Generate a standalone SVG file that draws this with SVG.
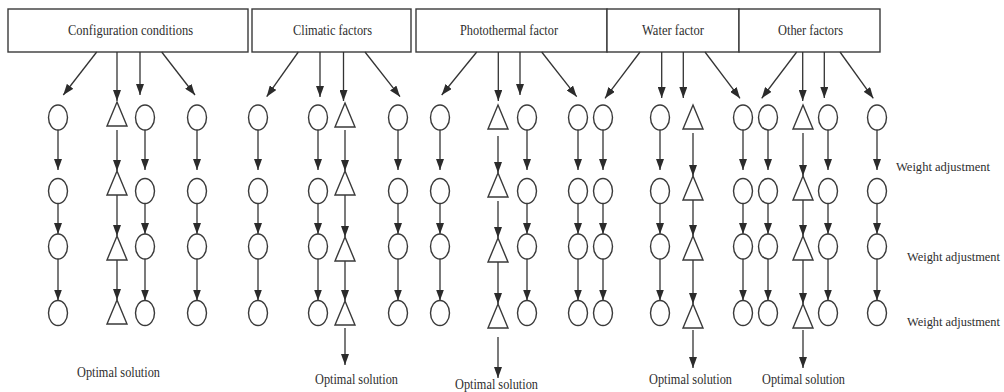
<svg xmlns="http://www.w3.org/2000/svg" xmlns:xlink="http://www.w3.org/1999/xlink" width="1004" height="392" viewBox="0 0 1004 392">
  <defs>
    <marker id="arr" viewBox="0 0 11 8" refX="11" refY="4" markerWidth="11" markerHeight="8" markerUnits="userSpaceOnUse" orient="auto">
      <path d="M0,0 L11,4 L0,8 Z" fill="#2b2b2b"/>
    </marker>
    <ellipse id="o" cx="0" cy="0" rx="9.5" ry="12.5"/>
    <path id="t" d="M0,0 L10,24 L-10,24 Z"/>
  </defs>
  <style>
    .cell { fill: #fff; stroke: #3a3a3a; stroke-width: 1.4; }
    .sh { fill: #fff; stroke: #3a3a3a; stroke-width: 1.4; }
    .conn line { stroke: #333; stroke-width: 1.3; marker-end: url(#arr); }
    text { font-family: "Liberation Serif", "Times New Roman", serif; font-size: 14.5px; fill: #2e2e2e; }
    #weight-labels text { font-size: 12.6px; }
  </style>

  <rect width="1004" height="392" fill="#fff"/>

  <!-- factor header cells -->
  <g id="h-config"><rect class="cell" x="8" y="9" width="240" height="43"/><text x="68" y="35" textLength="125" lengthAdjust="spacingAndGlyphs">Configuration conditions</text></g>
  <g id="h-climatic"><rect class="cell" x="252" y="9" width="159" height="43"/><text x="293" y="35" textLength="79" lengthAdjust="spacingAndGlyphs">Climatic factors</text></g>
  <g id="h-photothermal"><rect class="cell" x="416" y="9" width="191" height="43"/><text x="460" y="35" textLength="98" lengthAdjust="spacingAndGlyphs">Photothermal factor</text></g>
  <g id="h-water"><rect class="cell" x="607" y="9" width="132" height="43"/><text x="642" y="35" textLength="62" lengthAdjust="spacingAndGlyphs">Water factor</text></g>
  <g id="h-other"><rect class="cell" x="739" y="9" width="141" height="43"/><text x="778" y="35" textLength="65" lengthAdjust="spacingAndGlyphs">Other factors</text></g>

  <!-- connectors -->
  <g id="connectors" class="conn">
    <!-- header to first row -->
    <line x1="96.7" y1="52" x2="63.3" y2="95"/>
    <line x1="117" y1="52" x2="117" y2="101"/>
    <line x1="140" y1="52" x2="140" y2="95"/>
    <line x1="161.7" y1="52" x2="195" y2="95"/>
    <line x1="298.3" y1="52" x2="266.7" y2="96.7"/>
    <line x1="320" y1="52" x2="320" y2="97"/>
    <line x1="343.5" y1="52" x2="343.5" y2="101"/>
    <line x1="365" y1="52" x2="400" y2="96.7"/>
    <line x1="476.7" y1="52" x2="441.7" y2="95"/>
    <line x1="498.3" y1="52" x2="498.3" y2="101"/>
    <line x1="520" y1="52" x2="520" y2="95"/>
    <line x1="541.7" y1="52" x2="576.7" y2="96.7"/>
    <line x1="640" y1="52" x2="605" y2="98.3"/>
    <line x1="661.7" y1="52" x2="661.7" y2="98"/>
    <line x1="683.3" y1="52" x2="683.3" y2="98"/>
    <line x1="705" y1="52" x2="740" y2="98.3"/>
    <line x1="796.7" y1="52" x2="761.7" y2="98.3"/>
    <line x1="802.7" y1="52" x2="802.7" y2="101"/>
    <line x1="824.3" y1="52" x2="824.3" y2="98"/>
    <line x1="840" y1="52" x2="873.3" y2="98.3"/>

    <!-- circle columns: row to row -->
    <g id="c-col-arrows">
      <line x1="58" y1="130" x2="58" y2="170"/><line x1="58" y1="203.5" x2="58" y2="234"/><line x1="58" y1="259" x2="58" y2="300.5"/>
      <line x1="145" y1="130" x2="145" y2="170"/><line x1="145" y1="203.5" x2="145" y2="234"/><line x1="145" y1="259" x2="145" y2="300.5"/>
      <line x1="197" y1="130" x2="197" y2="170"/><line x1="197" y1="203.5" x2="197" y2="234"/><line x1="197" y1="259" x2="197" y2="300.5"/>
      <line x1="258" y1="130" x2="258" y2="170"/><line x1="258" y1="203.5" x2="258" y2="234"/><line x1="258" y1="259" x2="258" y2="300.5"/>
      <line x1="318" y1="130" x2="318" y2="170"/><line x1="318" y1="203.5" x2="318" y2="234"/><line x1="318" y1="259" x2="318" y2="300.5"/>
      <line x1="398" y1="130" x2="398" y2="170"/><line x1="398" y1="203.5" x2="398" y2="234"/><line x1="398" y1="259" x2="398" y2="300.5"/>
      <line x1="440" y1="130" x2="440" y2="170"/><line x1="440" y1="203.5" x2="440" y2="234"/><line x1="440" y1="259" x2="440" y2="300.5"/>
      <line x1="527" y1="130" x2="527" y2="170"/><line x1="527" y1="203.5" x2="527" y2="234"/><line x1="527" y1="259" x2="527" y2="300.5"/>
      <line x1="578" y1="130" x2="578" y2="170"/><line x1="578" y1="203.5" x2="578" y2="234"/><line x1="578" y1="259" x2="578" y2="300.5"/>
      <line x1="603" y1="130" x2="603" y2="170"/><line x1="603" y1="203.5" x2="603" y2="234"/><line x1="603" y1="259" x2="603" y2="300.5"/>
      <line x1="660" y1="130" x2="660" y2="170"/><line x1="660" y1="203.5" x2="660" y2="234"/><line x1="660" y1="259" x2="660" y2="300.5"/>
      <line x1="743" y1="130" x2="743" y2="170"/><line x1="743" y1="203.5" x2="743" y2="234"/><line x1="743" y1="259" x2="743" y2="300.5"/>
      <line x1="768" y1="130" x2="768" y2="170"/><line x1="768" y1="203.5" x2="768" y2="234"/><line x1="768" y1="259" x2="768" y2="300.5"/>
      <line x1="828" y1="130" x2="828" y2="170"/><line x1="828" y1="203.5" x2="828" y2="234"/><line x1="828" y1="259" x2="828" y2="300.5"/>
      <line x1="877" y1="130" x2="877" y2="170"/><line x1="877" y1="203.5" x2="877" y2="234"/><line x1="877" y1="259" x2="877" y2="300.5"/>
    </g>

    <!-- triangle columns: row to row, then to the solution -->
    <g id="t-col-arrows">
      <line x1="117" y1="130" x2="117" y2="171"/><line x1="117" y1="195" x2="117" y2="236"/><line x1="117" y1="255" x2="117" y2="300"/>
      <line x1="345" y1="130" x2="345" y2="171"/><line x1="345" y1="195" x2="345" y2="237"/><line x1="345" y1="256" x2="345" y2="301"/><line x1="345" y1="328" x2="345" y2="365"/>
      <line x1="498" y1="136" x2="498" y2="173"/><line x1="498" y1="201" x2="498" y2="238"/><line x1="498" y1="258" x2="498" y2="304"/><line x1="498" y1="337" x2="498" y2="378"/>
      <line x1="693" y1="133" x2="693" y2="176"/><line x1="693" y1="200" x2="693" y2="236"/><line x1="693" y1="258" x2="693" y2="304"/><line x1="693" y1="330" x2="693" y2="368"/>
      <line x1="803" y1="133" x2="803" y2="176"/><line x1="803" y1="200" x2="803" y2="236"/><line x1="803" y1="258" x2="803" y2="304"/><line x1="803" y1="330" x2="803" y2="368"/>
    </g>
  </g>

  <!-- configuration conditions -->
  <g id="cfg-a1"><use class="sh" xlink:href="#o" x="58" y="117.5"/></g>
  <g id="cfg-a2"><use class="sh" xlink:href="#o" x="58" y="191"/></g>
  <g id="cfg-a3"><use class="sh" xlink:href="#o" x="58" y="246.5"/></g>
  <g id="cfg-a4"><use class="sh" xlink:href="#o" x="58" y="313"/></g>
  <g id="cfg-t1"><use class="sh" xlink:href="#t" x="117" y="102"/></g>
  <g id="cfg-t2"><use class="sh" xlink:href="#t" x="117" y="171"/></g>
  <g id="cfg-t3"><use class="sh" xlink:href="#t" x="117" y="236"/></g>
  <g id="cfg-t4"><use class="sh" xlink:href="#t" x="117" y="300"/></g>
  <g id="cfg-b1"><use class="sh" xlink:href="#o" x="145" y="117.5"/></g>
  <g id="cfg-b2"><use class="sh" xlink:href="#o" x="145" y="191"/></g>
  <g id="cfg-b3"><use class="sh" xlink:href="#o" x="145" y="246.5"/></g>
  <g id="cfg-b4"><use class="sh" xlink:href="#o" x="145" y="313"/></g>
  <g id="cfg-c1"><use class="sh" xlink:href="#o" x="197" y="117.5"/></g>
  <g id="cfg-c2"><use class="sh" xlink:href="#o" x="197" y="191"/></g>
  <g id="cfg-c3"><use class="sh" xlink:href="#o" x="197" y="246.5"/></g>
  <g id="cfg-c4"><use class="sh" xlink:href="#o" x="197" y="313"/></g>

  <!-- climatic factors -->
  <g id="cli-a1"><use class="sh" xlink:href="#o" x="258" y="117.5"/></g>
  <g id="cli-a2"><use class="sh" xlink:href="#o" x="258" y="191"/></g>
  <g id="cli-a3"><use class="sh" xlink:href="#o" x="258" y="246.5"/></g>
  <g id="cli-a4"><use class="sh" xlink:href="#o" x="258" y="313"/></g>
  <g id="cli-b1"><use class="sh" xlink:href="#o" x="318" y="117.5"/></g>
  <g id="cli-b2"><use class="sh" xlink:href="#o" x="318" y="191"/></g>
  <g id="cli-b3"><use class="sh" xlink:href="#o" x="318" y="246.5"/></g>
  <g id="cli-b4"><use class="sh" xlink:href="#o" x="318" y="313"/></g>
  <g id="cli-t1"><use class="sh" xlink:href="#t" x="345" y="103"/></g>
  <g id="cli-t2"><use class="sh" xlink:href="#t" x="345" y="171"/></g>
  <g id="cli-t3"><use class="sh" xlink:href="#t" x="345" y="237"/></g>
  <g id="cli-t4"><use class="sh" xlink:href="#t" x="345" y="301"/></g>
  <g id="cli-c1"><use class="sh" xlink:href="#o" x="398" y="117.5"/></g>
  <g id="cli-c2"><use class="sh" xlink:href="#o" x="398" y="191"/></g>
  <g id="cli-c3"><use class="sh" xlink:href="#o" x="398" y="246.5"/></g>
  <g id="cli-c4"><use class="sh" xlink:href="#o" x="398" y="313"/></g>

  <!-- photothermal factor -->
  <g id="pho-a1"><use class="sh" xlink:href="#o" x="440" y="117.5"/></g>
  <g id="pho-a2"><use class="sh" xlink:href="#o" x="440" y="191"/></g>
  <g id="pho-a3"><use class="sh" xlink:href="#o" x="440" y="246.5"/></g>
  <g id="pho-a4"><use class="sh" xlink:href="#o" x="440" y="313"/></g>
  <g id="pho-t1"><use class="sh" xlink:href="#t" x="498" y="105"/></g>
  <g id="pho-t2"><use class="sh" xlink:href="#t" x="498" y="173"/></g>
  <g id="pho-t3"><use class="sh" xlink:href="#t" x="498" y="238"/></g>
  <g id="pho-t4"><use class="sh" xlink:href="#t" x="498" y="304"/></g>
  <g id="pho-b1"><use class="sh" xlink:href="#o" x="527" y="117.5"/></g>
  <g id="pho-b2"><use class="sh" xlink:href="#o" x="527" y="191"/></g>
  <g id="pho-b3"><use class="sh" xlink:href="#o" x="527" y="246.5"/></g>
  <g id="pho-b4"><use class="sh" xlink:href="#o" x="527" y="313"/></g>
  <g id="pho-c1"><use class="sh" xlink:href="#o" x="578" y="117.5"/></g>
  <g id="pho-c2"><use class="sh" xlink:href="#o" x="578" y="191"/></g>
  <g id="pho-c3"><use class="sh" xlink:href="#o" x="578" y="246.5"/></g>
  <g id="pho-c4"><use class="sh" xlink:href="#o" x="578" y="313"/></g>

  <!-- water factor -->
  <g id="wat-a1"><use class="sh" xlink:href="#o" x="603" y="117.5"/></g>
  <g id="wat-a2"><use class="sh" xlink:href="#o" x="603" y="191"/></g>
  <g id="wat-a3"><use class="sh" xlink:href="#o" x="603" y="246.5"/></g>
  <g id="wat-a4"><use class="sh" xlink:href="#o" x="603" y="313"/></g>
  <g id="wat-b1"><use class="sh" xlink:href="#o" x="660" y="117.5"/></g>
  <g id="wat-b2"><use class="sh" xlink:href="#o" x="660" y="191"/></g>
  <g id="wat-b3"><use class="sh" xlink:href="#o" x="660" y="246.5"/></g>
  <g id="wat-b4"><use class="sh" xlink:href="#o" x="660" y="313"/></g>
  <g id="wat-t1"><use class="sh" xlink:href="#t" x="693" y="105"/></g>
  <g id="wat-t2"><use class="sh" xlink:href="#t" x="693" y="176"/></g>
  <g id="wat-t3"><use class="sh" xlink:href="#t" x="693" y="236"/></g>
  <g id="wat-t4"><use class="sh" xlink:href="#t" x="693" y="304"/></g>
  <g id="wat-c1"><use class="sh" xlink:href="#o" x="743" y="117.5"/></g>
  <g id="wat-c2"><use class="sh" xlink:href="#o" x="743" y="191"/></g>
  <g id="wat-c3"><use class="sh" xlink:href="#o" x="743" y="246.5"/></g>
  <g id="wat-c4"><use class="sh" xlink:href="#o" x="743" y="313"/></g>

  <!-- other factors -->
  <g id="oth-a1"><use class="sh" xlink:href="#o" x="768" y="117.5"/></g>
  <g id="oth-a2"><use class="sh" xlink:href="#o" x="768" y="191"/></g>
  <g id="oth-a3"><use class="sh" xlink:href="#o" x="768" y="246.5"/></g>
  <g id="oth-a4"><use class="sh" xlink:href="#o" x="768" y="313"/></g>
  <g id="oth-t1"><use class="sh" xlink:href="#t" x="803" y="105"/></g>
  <g id="oth-t2"><use class="sh" xlink:href="#t" x="803" y="176"/></g>
  <g id="oth-t3"><use class="sh" xlink:href="#t" x="803" y="236"/></g>
  <g id="oth-t4"><use class="sh" xlink:href="#t" x="803" y="304"/></g>
  <g id="oth-b1"><use class="sh" xlink:href="#o" x="828" y="117.5"/></g>
  <g id="oth-b2"><use class="sh" xlink:href="#o" x="828" y="191"/></g>
  <g id="oth-b3"><use class="sh" xlink:href="#o" x="828" y="246.5"/></g>
  <g id="oth-b4"><use class="sh" xlink:href="#o" x="828" y="313"/></g>
  <g id="oth-c1"><use class="sh" xlink:href="#o" x="877" y="117.5"/></g>
  <g id="oth-c2"><use class="sh" xlink:href="#o" x="877" y="191"/></g>
  <g id="oth-c3"><use class="sh" xlink:href="#o" x="877" y="246.5"/></g>
  <g id="oth-c4"><use class="sh" xlink:href="#o" x="877" y="313"/></g>

  <!-- side labels -->
  <g id="weight-labels">
    <text x="896" y="171" textLength="94" lengthAdjust="spacingAndGlyphs">Weight adjustment</text>
    <text x="907" y="261" textLength="93" lengthAdjust="spacingAndGlyphs">Weight adjustment</text>
    <text x="907" y="326" textLength="93" lengthAdjust="spacingAndGlyphs">Weight adjustment</text>
  </g>

  <!-- solutions -->
  <g id="solutions">
    <text x="77" y="377" textLength="83" lengthAdjust="spacingAndGlyphs">Optimal solution</text>
    <text x="315" y="384" textLength="83" lengthAdjust="spacingAndGlyphs">Optimal solution</text>
    <text x="455" y="389" textLength="83" lengthAdjust="spacingAndGlyphs">Optimal solution</text>
    <text x="649" y="384" textLength="83" lengthAdjust="spacingAndGlyphs">Optimal solution</text>
    <text x="762" y="384" textLength="83" lengthAdjust="spacingAndGlyphs">Optimal solution</text>
  </g>
</svg>
